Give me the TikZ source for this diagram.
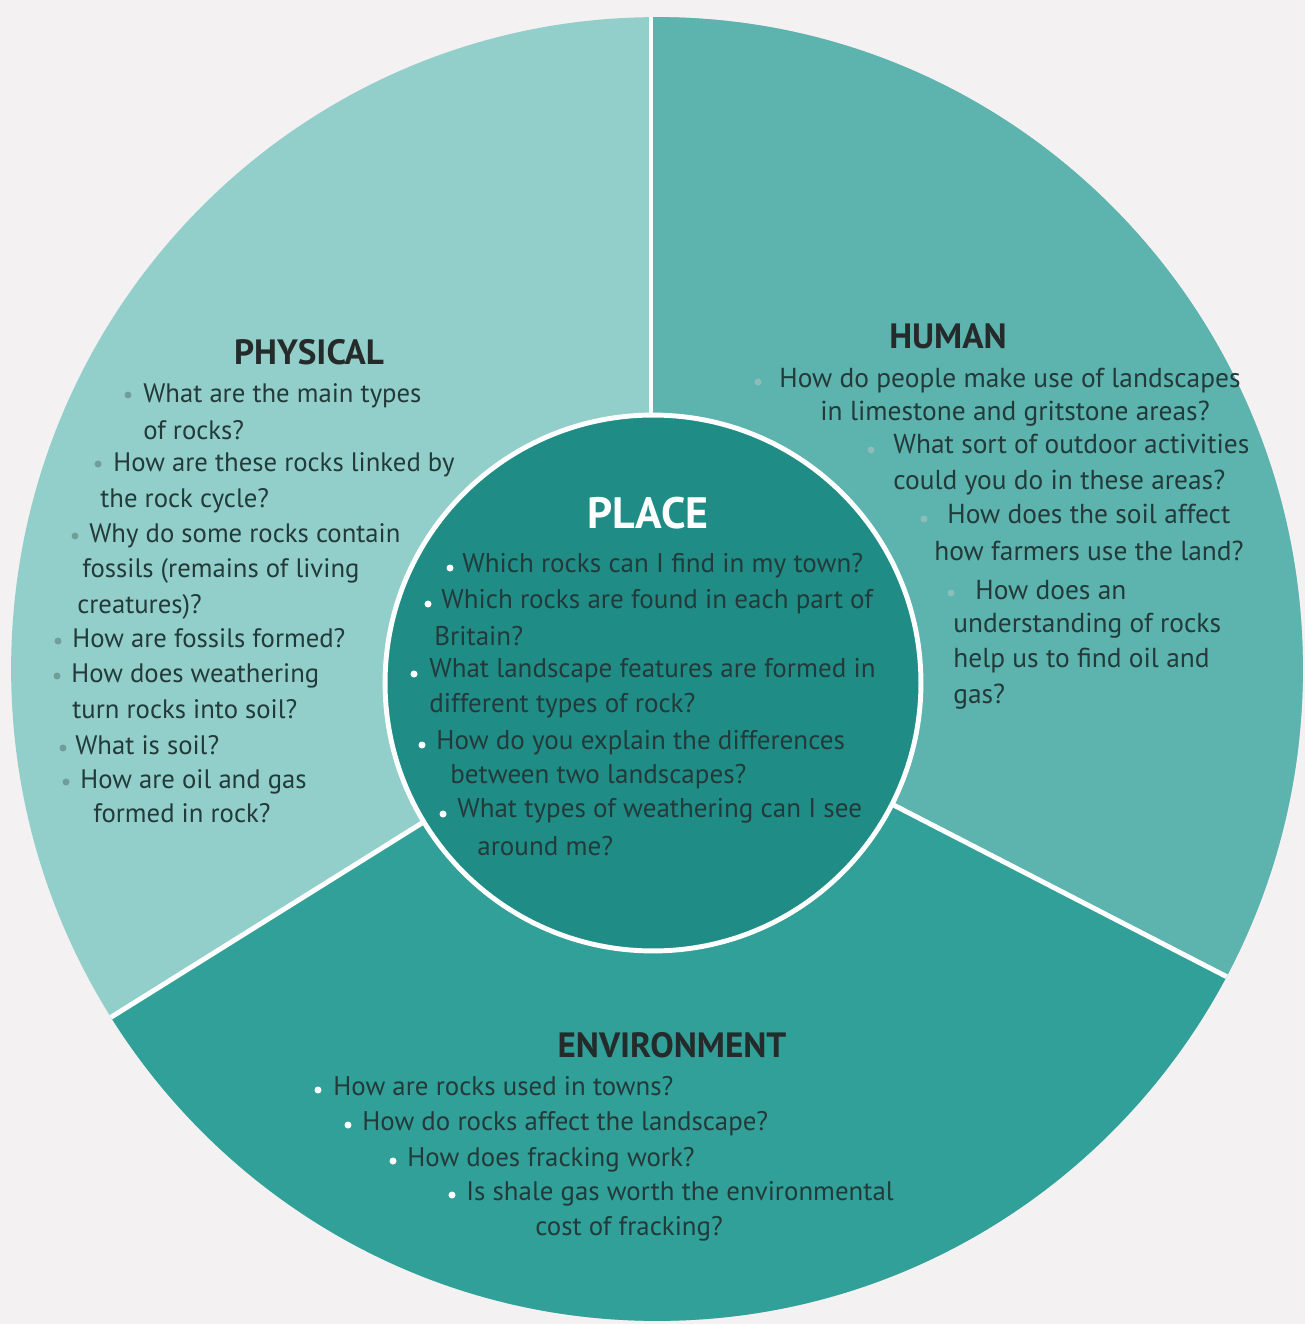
\documentclass[tikz,border=0pt]{standalone}
\usepackage{fontspec}
\setmainfont{PT Sans}
\setsansfont{PT Sans}

\definecolor{paper}{HTML}{F3F1F1}
\definecolor{physcol}{HTML}{92CFCA}
\definecolor{humcol}{HTML}{5DB3AD}
\definecolor{envcol}{HTML}{31A098}
\definecolor{placecol}{HTML}{1F8D86}
\definecolor{txtcol}{HTML}{233A3A}
\definecolor{ttlcol}{HTML}{252B2B}
\definecolor{physbul}{HTML}{6F9E9B}
\definecolor{humbul}{HTML}{8DBDB9}

\tikzset{
  qtext/.style={anchor=base west, inner sep=0pt, text=txtcol, font=\fontsize{15.2}{18}\selectfont},
  htext/.style={qtext, font=\fontsize{15.6}{18}\selectfont},
  ptext/.style={qtext, font=\fontsize{15.4}{18}\selectfont},
  etext/.style={qtext, font=\fontsize{15.3}{18}\selectfont},
  heading/.style={anchor=center, inner sep=0pt, text=ttlcol, font=\fontsize{20}{22}\bfseries\selectfont},
  divider/.style={white, line width=2.8pt},
  physdot/.style={fill=physbul},
  humdot/.style={fill=humbul},
  whitedot/.style={fill=white},
}

\begin{document}
\begin{tikzpicture}[x=0.02cm, y=-0.02cm]
  % paper and frame
  \fill[paper] (0,0) rectangle (1305,1324);
  \useasboundingbox (0,0) rectangle (1305,1324);

  \coordinate (O) at (651,680);

  % outer disc split in three sectors
  \begin{scope}
    \clip (657,669) ellipse [x radius=12.92cm, y radius=13.04cm];
    \fill[physcol] (0,0) rectangle (1305,1324);
    \fill[humcol] (O) -- (651,-50) -- (1400,-50) -- (1400,1066) -- cycle;
    \fill[envcol] (O) -- (1400,1066) -- (1400,1400) -- (-100,1400) -- (-100,1149) -- cycle;
    \draw[divider] (O) -- (651,-50);
    \draw[divider] (O) -- (1400,1066);
    \draw[divider] (O) -- (-100,1149);
  \end{scope}

  % central disc
  \draw[white, line width=2.8pt, fill=placecol] (653,683) circle [radius=5.36cm];

  % ---------- PHYSICAL ----------
  \node[heading] (physT) at (309,352) {PHYSICAL};
  \fill[physdot] (128,395) circle [radius=0.07cm];
  \node[qtext] (ph1) at (143,402) {What are the main types};
  \node[qtext] (ph2) at (143,439) {of rocks?};
  \fill[physdot] (98,464) circle [radius=0.07cm];
  \node[qtext] (ph3) at (113,471) {How are these rocks linked by};
  \node[qtext] (ph4) at (100,507) {the rock cycle?};
  \fill[physdot] (75,536) circle [radius=0.07cm];
  \node[qtext] (ph5) at (89,542) {Why do some rocks contain};
  \node[qtext] (ph6) at (82,577) {fossils (remains of living};
  \node[qtext] (ph7) at (77,613) {creatures)?};
  \fill[physdot] (58,641) circle [radius=0.07cm];
  \node[qtext] (ph8) at (72,647) {How are fossils formed?};
  \fill[physdot] (57,676) circle [radius=0.07cm];
  \node[qtext] (ph9) at (71,682) {How does weathering};
  \node[qtext] (ph10) at (72,718) {turn rocks into soil?};
  \fill[physdot] (63,748) circle [radius=0.07cm];
  \node[qtext] (ph11) at (75,754) {What is soil?};
  \fill[physdot] (66,782) circle [radius=0.07cm];
  \node[qtext] (ph12) at (80,788) {How are oil and gas};
  \node[qtext] (ph13) at (93,822) {formed in rock?};

  % ---------- HUMAN ----------
  \node[heading] (humT) at (948,336) {HUMAN};
  \fill[humdot] (758,382) circle [radius=0.07cm];
  \node[htext] (hu1) at (779,387) {How do people make use of landscapes};
  \node[htext] (hu2) at (820,420) {in limestone and gritstone areas?};
  \fill[humdot] (871,450) circle [radius=0.07cm];
  \node[htext] (hu3) at (893,453) {What sort of outdoor activities};
  \node[htext] (hu4) at (893,489) {could you do in these areas?};
  \fill[humdot] (924,519) circle [radius=0.07cm];
  \node[htext] (hu5) at (947,523) {How does the soil affect};
  \node[htext] (hu6) at (934,560) {how farmers use the land?};
  \fill[humdot] (951,593) circle [radius=0.07cm];
  \node[htext] (hu7) at (975,599) {How does an};
  \node[htext] (hu8) at (953,632) {understanding of rocks};
  \node[htext] (hu9) at (953,667) {help us to find oil and};
  \node[htext] (hu10) at (953,703) {gas?};

  % ---------- PLACE ----------
  \node[heading, text=white, font=\fontsize{25}{27}\bfseries\selectfont] (plT) at (648,513) {PLACE};
  \fill[whitedot] (450,568) circle [radius=0.07cm];
  \node[ptext] (pl1) at (462,572) {Which rocks can I find in my town?};
  \fill[whitedot] (428,604) circle [radius=0.07cm];
  \node[ptext] (pl2) at (441,608) {Which rocks are found in each part of};
  \node[ptext] (pl3) at (434,645) {Britain?};
  \fill[whitedot] (414,674) circle [radius=0.07cm];
  \node[ptext] (pl4) at (429,677) {What landscape features are formed in};
  \node[ptext] (pl5) at (429,712) {different types of rock?};
  \fill[whitedot] (422,745) circle [radius=0.07cm];
  \node[ptext] (pl6) at (436,749) {How do you explain the differences};
  \node[ptext] (pl7) at (450,783) {between two landscapes?};
  \fill[whitedot] (443,814) circle [radius=0.07cm];
  \node[ptext] (pl8) at (457,817) {What types of weathering can I see};
  \node[ptext] (pl9) at (477,855) {around me?};

  % ---------- ENVIRONMENT ----------
  \node[heading] (enT) at (672,1045) {ENVIRONMENT};
  \fill[whitedot] (318,1090) circle [radius=0.07cm];
  \node[etext] (en1) at (333,1095) {How are rocks used in towns?};
  \fill[whitedot] (348,1125) circle [radius=0.07cm];
  \node[etext] (en2) at (362,1130) {How do rocks affect the landscape?};
  \fill[whitedot] (393,1161) circle [radius=0.07cm];
  \node[etext] (en3) at (407,1166) {How does fracking work?};
  \fill[whitedot] (452,1195) circle [radius=0.07cm];
  \node[etext] (en4) at (466,1200) {Is shale gas worth the environmental};
  \node[etext] (en5) at (535,1235) {cost of fracking?};
\end{tikzpicture}
\end{document}
